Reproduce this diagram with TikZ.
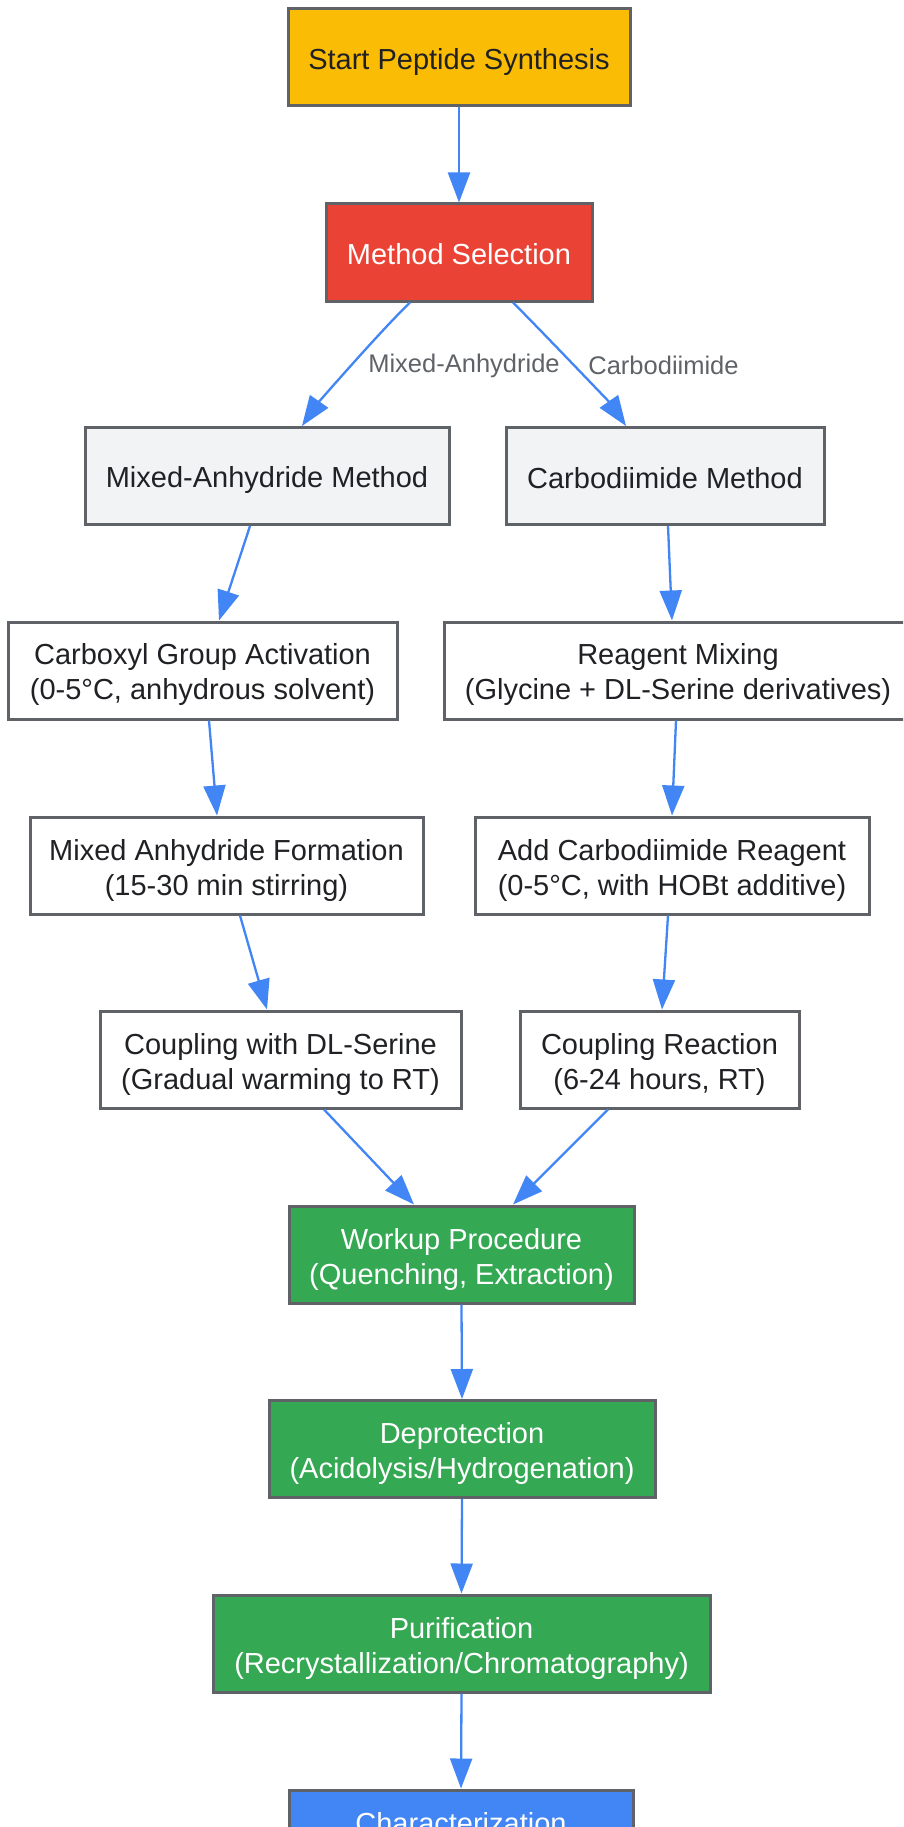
\documentclass[tikz,border=0pt]{standalone}
\usepackage{fontspec}
\setmainfont{Liberation Sans}
\usetikzlibrary{arrows.meta,calc}
\definecolor{bordc}{HTML}{5F6368}
\definecolor{txtdark}{HTML}{202124}
\definecolor{arrowc}{HTML}{4285F4}
\definecolor{startc}{HTML}{FBBC05}
\definecolor{redc}{HTML}{EA4335}
\definecolor{methc}{HTML}{F1F3F4}
\definecolor{greenc}{HTML}{34A853}
\definecolor{bluec}{HTML}{4285F4}
\definecolor{labc}{HTML}{5F6368}
\newcommand{\tstr}{\rule[-6pt]{0pt}{36pt}}
\begin{document}
\begin{tikzpicture}[x=1pt,y=-1pt,
  box/.style={draw=bordc, line width=3pt, minimum height=97pt, inner sep=0pt,
    align=center, font=\fontsize{29}{35}\selectfont, text=txtdark, fill=white},
  startbox/.style={box, fill=startc},
  redbox/.style={box, fill=redc, text=white},
  methbox/.style={box, fill=methc},
  greenbox/.style={box, fill=greenc, text=white},
  bluebox/.style={box, fill=bluec, text=white},
  flow/.style={draw=arrowc, line width=2.3pt, -{Triangle[length=30pt,width=22pt]}},
  elabel/.style={font=\fontsize{25.5}{30}\selectfont, text=labc, inner sep=0pt}
]
\useasboundingbox (0,0) rectangle (903,1827);
\clip (0,0) rectangle (903,1827);
\fill[white] (0,0) rectangle (903,1827);

\node[startbox, minimum width=342pt] (start) at (459,57.5) {\tstr Start Peptide Synthesis};
\node[redbox, minimum width=266pt] (method) at (459,252.5) {\tstr Method Selection};
\node[methbox, minimum width=364pt] (mixed) at (267,476) {\tstr Mixed-Anhydride Method};
\node[methbox, minimum width=318pt] (carbo) at (665,476) {\tstr Carbodiimide Method};
\node[box, minimum width=389pt] (carboxyl) at (202.5,670.5) {\tstr Carboxyl Group Activation\\(0-5°C, anhydrous solvent)};
\node[box, minimum width=468pt] (reagent) at (678,670.5) {\tstr Reagent Mixing\\(Glycine + DL-Serine derivatives)};
\node[box, minimum width=393pt] (maf) at (226.5,865.5) {\tstr Mixed Anhydride Formation\\(15-30 min stirring)};
\node[box, minimum width=394pt] (addcarbo) at (672,865.5) {\tstr Add Carbodiimide Reagent\\(0-5°C, with HOBt additive)};
\node[box, minimum width=361pt] (coupdl) at (280.5,1059.5) {\tstr Coupling with DL-Serine\\(Gradual warming to RT)};
\node[box, minimum width=279pt] (coupr) at (659.5,1059.5) {\tstr Coupling Reaction\\(6-24 hours, RT)};
\node[greenbox, minimum width=345pt] (workup) at (461.5,1254.5) {\tstr Workup Procedure\\(Quenching, Extraction)};
\node[greenbox, minimum width=386pt] (deprot) at (462,1449) {\tstr Deprotection\\(Acidolysis/Hydrogenation)};
\node[greenbox, minimum width=497pt] (purif) at (461.5,1643.5) {\tstr Purification\\(Recrystallization/Chromatography)};
\node[bluebox, minimum width=344pt] (char) at (461,1838.5) {};
\node[font=\fontsize{29}{35}\selectfont, text=white, inner sep=0pt] (chartext) at ([yshift=17.5pt]char.center) {\tstr Characterization};

\draw[flow] (start.south) -- (method.north);
\draw[flow] ([xshift=-49pt]method.south) .. controls ($(method.south)+(-80,30)$) and ($(mixed.north)+(51,-23)$) .. ([xshift=35pt]mixed.north);
\draw[flow] ([xshift=54pt]method.south) .. controls ($(method.south)+(84,30)$) and ($(carbo.north)+(-55,-23)$) .. ([xshift=-39pt]carbo.north);
\node[elabel] (lab1) at (464,366) {Mixed-Anhydride};
\node[elabel] (lab2) at (663.5,365) {Carbodiimide};

\draw[flow] ([xshift=-17pt]mixed.south) -- ([xshift=16.5pt]carboxyl.north);
\draw[flow] ([xshift=3pt]carbo.south) -- ([xshift=-6pt]reagent.north);
\draw[flow] ([xshift=6.5pt]carboxyl.south) -- ([xshift=-9.5pt]maf.north);
\draw[flow] ([xshift=-2pt]reagent.south) -- (addcarbo.north);
\draw[flow] ([xshift=13.5pt]maf.south) -- ([xshift=-13.5pt]coupdl.north);
\draw[flow] ([xshift=-4pt]addcarbo.south) -- ([xshift=2.5pt]coupr.north);
\draw[flow] ([xshift=43.5pt]coupdl.south) -- ([xshift=-47.5pt]workup.north);
\draw[flow] ([xshift=-51.5pt]coupr.south) -- ([xshift=51.5pt]workup.north);
\draw[flow] (workup.south) -- (deprot.north);
\draw[flow] (deprot.south) -- (purif.north);
\draw[flow] (purif.south) -- (char.north);
\end{tikzpicture}
\end{document}
